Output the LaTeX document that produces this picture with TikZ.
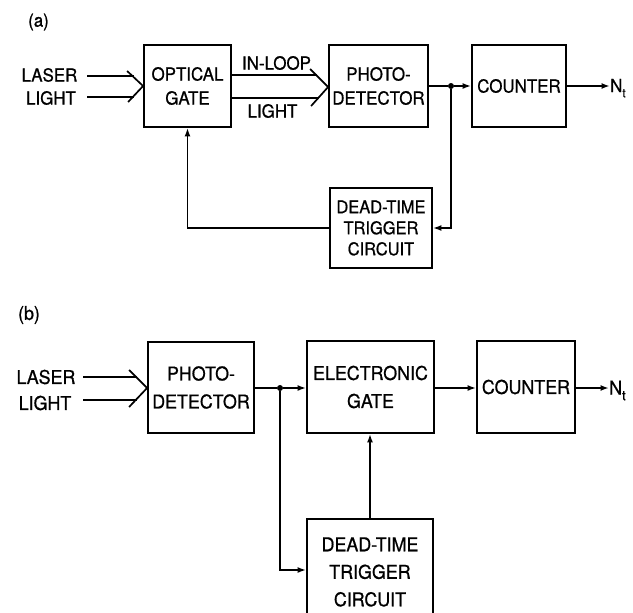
\documentclass[tikz,border=0pt]{standalone}
\usepackage{fontspec}
\setmainfont{TeX Gyre Heros}[FakeBold=0.8,FakeStretch=0.94]
\usetikzlibrary{arrows.meta,calc}
\begin{document}
\begin{tikzpicture}[x=1pt,y=-1pt,
  box/.style={draw,line width=1.8pt,rectangle,inner sep=0pt,align=center},
  lbl/.style={inner sep=0pt,align=center},
  conn/.style={line width=1.7pt},
  arr/.style={conn,-{Latex[length=8.5pt,width=6pt]}},
  fa/.style={font=\fontsize{18}{24}\selectfont},
  fad/.style={font=\fontsize{17.5}{21}\selectfont},
  fb/.style={font=\fontsize{19}{28}\selectfont},
  fbd/.style={font=\fontsize{19}{27.5}\selectfont},
  jdot/.style={circle,fill,inner sep=0pt,minimum size=6pt}
]
\useasboundingbox (0,0) rectangle (633,613);

% ---------------- (a) ----------------
\node[lbl,fa] (tla) at (38.5,22) {(a)};
\node[lbl,fa] (laserA) at (49.5,75) {LASER};
\node[lbl,fa] (lightA) at (51,98) {LIGHT};
\node[box,fa,minimum width=87,minimum height=82] (og) at (187.5,86) {OPTICAL\\GATE};
\node[box,fa,minimum width=99,minimum height=82] (pd1) at (378.5,86) {PHOTO-\\DETECTOR};
\node[box,fa,minimum width=94,minimum height=82] (ct1) at (519,86) {COUNTER};
\node[box,fad,minimum width=102,minimum height=80] (dt1) at (381,228) {DEAD-TIME\\TRIGGER\\CIRCUIT};
\node[lbl,fa] (inloop) at (276.5,63) {IN-LOOP};
\node[lbl,fa] (light2) at (272.5,111) {LIGHT};
\node[lbl,fa,anchor=base west] (nt1) at (610,92) {N\raisebox{-0.3em}{\fontsize{12.5}{12.5}\selectfont t}};
\node[jdot] (j1) at (451,86) {};

\coordinate (a1s) at (87,76);
\coordinate (a1e) at (133.5,76);
\coordinate (a2s) at (87,97);
\coordinate (a2e) at (133.5,97);
\draw[conn] (a1s) -- (a1e);
\draw[conn] (a2s) -- (a2e);
\draw[conn] ($(og.west)+(-16,-15)$) -- (og.west) -- ($(og.west)+(-15,16)$);

\coordinate (b1s) at (og.east |- 0,75);
\coordinate (b1e) at (317,75);
\coordinate (b2s) at (og.east |- 0,98);
\coordinate (b2e) at (319,98);
\draw[conn] (b1s) -- (b1e);
\draw[conn] (b2s) -- (b2e);
\coordinate (tipA) at ($(pd1.west)+(0,1)$);
\draw[conn] ($(tipA)+(-18,-18)$) -- (tipA) -- ($(tipA)+(-17,19)$);

\draw[conn] (pd1.east) -- (j1);
\draw[arr] (j1) -- (ct1.west);
\draw[arr] (ct1.east) -- (nt1.west |- ct1.east);
\draw[arr] (j1) |- (dt1.east);
\draw[arr] (dt1.west) -| (og.south);

% ---------------- (b) ----------------
\node[lbl,fb] (tlb) at (29,315) {(b)};
\node[lbl,fb] (laserB) at (46,377) {LASER};
\node[lbl,fb] (lightB) at (45,403) {LIGHT};
\node[box,fb,minimum width=106,minimum height=91] (pd2) at (201,387.5) {PHOTO-\\DETECTOR};
\node[box,fb,minimum width=127,minimum height=92] (eg) at (370.5,387) {ELECTRONIC\\GATE};
\node[box,fb,minimum width=98,minimum height=92] (ct2) at (526,387) {COUNTER};
\node[box,fbd,minimum width=126,minimum height=106] (dt2) at (370,572) {DEAD-TIME\\TRIGGER\\CIRCUIT};
\node[lbl,fb,anchor=base west] (nt2) at (609,394.5) {N\raisebox{-0.3em}{\fontsize{13.5}{13.5}\selectfont t}};
\node[jdot] (j2) at (280,388) {};

\coordinate (c1s) at (83,377);
\coordinate (c1e) at (137,377);
\coordinate (c2s) at (83,400);
\coordinate (c2e) at (136.6,400);
\draw[conn] (c1s) -- (c1e);
\draw[conn] (c2s) -- (c2e);
\coordinate (tipB) at ($(pd2.west)+(0,0.5)$);
\draw[conn] ($(tipB)+(-18,-18)$) -- (tipB) -- ($(tipB)+(-18,19)$);

\draw[conn] (pd2.east |- j2) -- (j2);
\draw[arr] (j2) -- (eg.west |- j2);
\draw[arr] (eg.east |- j2) -- (ct2.west |- j2);
\draw[arr] (ct2.east |- j2) -- (nt2.west |- j2);
\draw[arr] (j2) |- ($(dt2.west)+(0,-2)$);
\draw[arr] (dt2.north) -- (dt2.north |- eg.south);
\end{tikzpicture}
\end{document}
